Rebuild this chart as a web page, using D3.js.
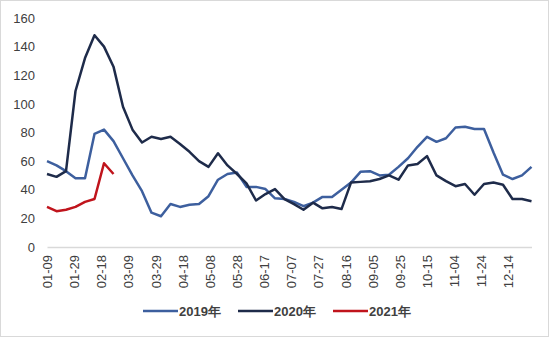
<!DOCTYPE html>
<html><head><meta charset="utf-8">
<script src="https://cdn.jsdelivr.net/npm/d3@7"></script>
<style>
html,body{margin:0;padding:0;background:#fff;}
svg{display:block;}
text{font-family:"Liberation Sans",Arial,sans-serif;}
</style></head>
<body><svg id="c" width="550" height="338"></svg>
<script>
const seriesNames = ["2019年", "2020年", "2021年"];
const seriesColors = ["#3d5f9e", "#1e2b4a", "#c0141c"];
const firstDate = "2020-01-09";
const stepDays = 7;
const lastDate = "2020-12-31";
const tickLabels = ["01-09","01-29","02-18","03-09","03-29","04-18","05-08","05-28","06-17","07-07","07-27","08-16","09-05","09-25","10-15","11-04","11-24","12-14"];
const yTicks = [0,20,40,60,80,100,120,140,160];
const v2019 = [60,57,53,48,48,79,82,74,62,50,39,24,21.5,30,28,29.5,30,35.5,47,51,52,42,42,40.5,34,33.5,31.5,28.5,31,35,35,40,45,52.5,53,50,50.5,56,62,70,77,73.5,76,83.5,84,82.5,82.5,66,50.5,47.5,50,56];
const v2020 = [51,49,53,109,132,148,140,126,98,82,73,77,75.5,77,72,66.5,60,56,65.5,57,51,44.5,32.5,37,40.5,33.5,30,26,31,27,28,26.5,45,45.5,46,47.5,50,47,57,58,63.5,50,46,42.5,44,36.5,44,45,43.5,33.5,33.5,32];
const v2021 = [28,25,26,28,31.5,33.5,58.5,51];

const svg = d3.select("#c");
const W = 550, H = 338;
const m = {left:47, right:18.5, top:18, bottom:91};
const parse = d3.utcParse("%Y-%m-%d");
const d0 = parse(firstDate), d1 = parse(lastDate);

svg.append("rect").attr("x",0.5).attr("y",0.5).attr("width",W-2).attr("height",H-2)
  .attr("fill","#fff").attr("stroke","#d9d9d9");

const x = d3.scaleUtc().domain([d0,d1]).range([m.left, W-m.right]);
const y = d3.scaleLinear().domain([0,160]).range([H-m.bottom, m.top]);

// y axis labels
const yAxis = d3.axisLeft(y).tickValues(yTicks).tickSize(0).tickPadding(0);
const gy = svg.append("g").attr("transform",`translate(35,0)`).call(yAxis);
gy.select(".domain").remove();
gy.selectAll("text").attr("font-size",13).attr("fill","#404040").attr("font-family","Liberation Sans, Arial, sans-serif");

// x axis
const tickDates = tickLabels.map(t => parse("2020-" + t));
const xAxis = d3.axisBottom(x).tickValues(tickDates).tickSize(0).tickFormat((d,i)=>tickLabels[i]);
const gx = svg.append("g").attr("transform",`translate(0,${y(0)})`).call(xAxis);
gx.select(".domain").attr("stroke","#d9d9d9").attr("stroke-width",1.5);
gx.selectAll("text").attr("font-size",13).attr("fill","#404040")
  .attr("font-family","Liberation Sans, Arial, sans-serif")
  .attr("transform","rotate(-90)").attr("text-anchor","end")
  .attr("x",-8).attr("y",0).attr("dy","0.35em");

const allSeries = [v2019, v2020, v2021];
const line = d3.line().x((d,i)=>x(d3.utcDay.offset(d0, stepDays*i))).y(d=>y(d));
allSeries.forEach((vals,k)=>{
  svg.append("path").datum(vals).attr("d",line).attr("fill","none")
    .attr("stroke",seriesColors[k]).attr("stroke-width",2.5).attr("stroke-linejoin","round");
});

// legend
const legX = [143, 238, 333];
const lg = svg.append("g");
seriesNames.forEach((n,k)=>{
  lg.append("line").attr("x1",legX[k]).attr("x2",legX[k]+35).attr("y1",311).attr("y2",311)
    .attr("stroke",seriesColors[k]).attr("stroke-width",2.5);
  lg.append("text").attr("x",legX[k]+36).attr("y",311).attr("dy","0.35em")
    .attr("font-size",13).attr("font-weight","bold").attr("fill","#404040").text(n);
});
</script></body></html>
